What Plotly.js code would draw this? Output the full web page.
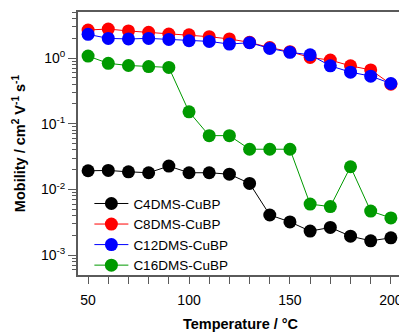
<!DOCTYPE html>
<html><head><meta charset="utf-8">
<script src="https://cdn.plot.ly/plotly-3.0.1.min.js"></script>
<style>html,body{margin:0;padding:0;overflow:hidden;background:#fff;}</style>
</head><body>
<div id="chart" style="width:405px;height:334px;"></div>
<script>
const temperature = [50,60,70,80,90,100,110,120,130,140,150,160,170,180,190,200];
const c4 = [0.0193,0.0195,0.0186,0.0180,0.0227,0.0180,0.0180,0.0171,0.0124,0.0041,0.00322,0.00233,0.00265,0.00195,0.00166,0.00184];
const c8 = [2.67,2.76,2.58,2.46,2.32,2.26,2.11,1.95,1.73,1.44,1.25,1.02,0.93,0.76,0.66,0.40];
const c12 = [2.29,1.99,1.95,1.99,1.92,1.83,1.79,1.63,1.71,1.40,1.22,1.12,0.76,0.61,0.53,0.41];
const c16 = [1.07,0.83,0.77,0.74,0.72,0.152,0.066,0.066,0.041,0.041,0.041,0.0060,0.0055,0.0222,0.0047,0.0037];
const seriesNames = ['C4DMS-CuBP','C8DMS-CuBP','C12DMS-CuBP','C16DMS-CuBP'];
const seriesColors = ['#000000','#ff0000','#0000ff','#009a00'];
const yTickVals = [0.001,0.01,0.1,1];
const yTickText = ['10<sup>-3</sup>','10<sup>-2</sup>','10<sup>-1</sup>','10<sup>0</sup>'];

const allSeries = [c4,c8,c12,c16];
const traces = allSeries.map((ys,i)=>({
  x: temperature, y: ys, name: seriesNames[i], type:'scatter', mode:'lines+markers',
  line:{color:seriesColors[i], width:1},
  marker:{color:seriesColors[i], size:13, line:{width:0}}
}));
const axColor = '#5a5a5a';
const layout = {
  width:405, height:334,
  margin:{l:78, r:2, t:12, b:59},
  paper_bgcolor:'#fff', plot_bgcolor:'#fff',
  font:{family:'Liberation Sans, Arial, sans-serif', size:13, color:'#000'},
  showlegend:true,
  legend:{x:0.035, y:0.33, xanchor:'left', yanchor:'top', bgcolor:'rgba(0,0,0,0)', borderwidth:0,
    font:{size:13.5}, tracegroupgap:0, itemwidth:34},
  xaxis:{range:[45,206], dtick:50, tick0:0, ticks:'outside', ticklen:7, tickwidth:1, tickcolor:axColor,
    showline:true, linecolor:axColor, linewidth:2, mirror:true, showgrid:false, zeroline:false,
    minor:{dtick:10, ticks:'outside', ticklen:7, tickwidth:1, tickcolor:axColor, showgrid:false},
    tickfont:{size:14}, ticklabelstandoff:4,
    title:{text:'<b>Temperature / °C</b>', font:{size:14.5}, standoff:12}},
  yaxis:{type:'log', range:[-3.3,0.7], tickmode:'array', tickvals:yTickVals, ticktext:yTickText,
    ticks:'outside', ticklen:8, tickwidth:1, tickcolor:axColor,
    showline:true, linecolor:axColor, linewidth:2, mirror:true, showgrid:false, zeroline:false,
    minor:{dtick:'D1', ticks:'outside', ticklen:4, tickwidth:1, tickcolor:axColor, showgrid:false},
    tickfont:{size:14},
    title:{text:'<b>Mobility / cm<sup>2</sup> V<sup>-1</sup> s<sup>-1</sup></b>', font:{size:14.5}, standoff:12}}
};
Plotly.newPlot('chart', traces, layout, {displayModeBar:false, staticPlot:true});
</script>
</body></html>
